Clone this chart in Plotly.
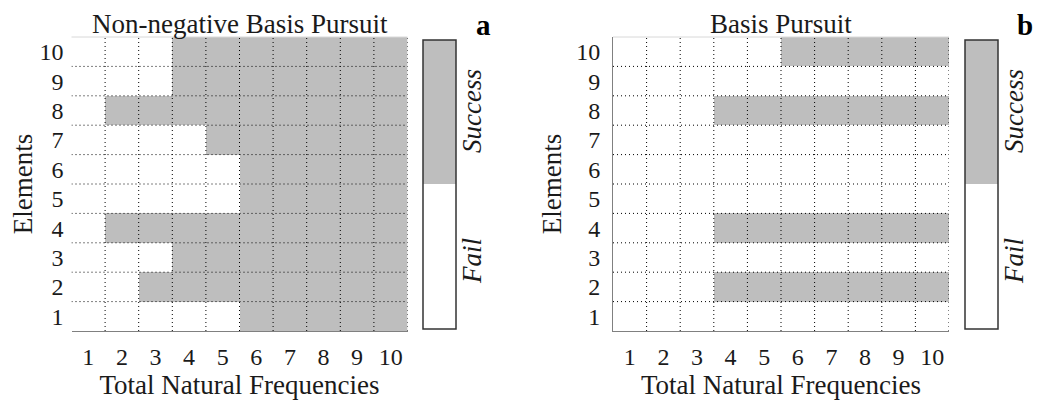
import plotly.graph_objects as go

# ---------------- data ----------------
freqs = [1, 2, 3, 4, 5, 6, 7, 8, 9, 10]          # Total Natural Frequencies
elements = [1, 2, 3, 4, 5, 6, 7, 8, 9, 10]       # Elements
# 1 = Success, 0 = Fail ; rows = elements 1..10, columns = frequencies 1..10
nnbp = [
    [0, 0, 0, 0, 0, 1, 1, 1, 1, 1],  # 1
    [0, 0, 1, 1, 1, 1, 1, 1, 1, 1],  # 2
    [0, 0, 0, 1, 1, 1, 1, 1, 1, 1],  # 3
    [0, 1, 1, 1, 1, 1, 1, 1, 1, 1],  # 4
    [0, 0, 0, 0, 0, 1, 1, 1, 1, 1],  # 5
    [0, 0, 0, 0, 0, 1, 1, 1, 1, 1],  # 6
    [0, 0, 0, 0, 1, 1, 1, 1, 1, 1],  # 7
    [0, 1, 1, 1, 1, 1, 1, 1, 1, 1],  # 8
    [0, 0, 0, 1, 1, 1, 1, 1, 1, 1],  # 9
    [0, 0, 0, 1, 1, 1, 1, 1, 1, 1],  # 10
]
bp = [
    [0, 0, 0, 0, 0, 0, 0, 0, 0, 0],  # 1
    [0, 0, 0, 1, 1, 1, 1, 1, 1, 1],  # 2
    [0, 0, 0, 0, 0, 0, 0, 0, 0, 0],  # 3
    [0, 0, 0, 1, 1, 1, 1, 1, 1, 1],  # 4
    [0, 0, 0, 0, 0, 0, 0, 0, 0, 0],  # 5
    [0, 0, 0, 0, 0, 0, 0, 0, 0, 0],  # 6
    [0, 0, 0, 0, 0, 0, 0, 0, 0, 0],  # 7
    [0, 0, 0, 1, 1, 1, 1, 1, 1, 1],  # 8
    [0, 0, 0, 0, 0, 0, 0, 0, 0, 0],  # 9
    [0, 0, 0, 0, 0, 1, 1, 1, 1, 1],  # 10
]
titles = ["Non-negative Basis Pursuit", "Basis Pursuit"]
panel_labels = ["a", "b"]
cell_edges = [0.5 + i for i in range(11)]

# ---------------- style ----------------
OFF = 8                      # page body margin of the HTML page
W, H = 1042 - OFF, 404 - OFF
GRAY = "#bebebe"
TXT = "#1a1a1a"
FONT = "Liberation Serif, Times New Roman, DejaVu Serif, serif"
cscale = [[0, "white"], [0.5, "white"], [0.5, GRAY], [1, GRAY]]

def px_x(p):
    return (p - OFF) / W

def px_y(p):
    return 1 - (p - OFF) / H

panels = [
    dict(x0=71.5, x1=407.5, cb=423),
    dict(x0=613, x1=949, cb=965),
]
y_top, y_bot = 37, 331

fig = go.Figure()
annotations = []
shapes = []

for i, (z, pan) in enumerate(zip([nnbp, bp], panels)):
    xa = "x" if i == 0 else "x2"
    ya = "y" if i == 0 else "y2"
    fig.add_trace(go.Heatmap(
        x=freqs, y=elements, z=z, zmin=0, zmax=1,
        colorscale=cscale, xaxis=xa, yaxis=ya, hoverinfo="skip",
        colorbar=dict(
            x=px_x(pan["cb"]), xanchor="left", xpad=0, ypad=0,
            y=px_y((40 + 329) / 2), yanchor="middle",
            len=(329 - 40) / H, lenmode="fraction",
            thickness=33, thicknessmode="pixels",
            outlinewidth=1.5, outlinecolor="#333333",
            tickvals=[], showticklabels=False, ticks="",
        ),
    ))
    # dotted grid along cell edges, drawn above the cells
    gx, gy = [], []
    for e in cell_edges[1:]:
        gx += [e, e, None]
        gy += [cell_edges[0], cell_edges[-1], None]
    for e in cell_edges[1:-1]:
        gx += [cell_edges[0], cell_edges[-1], None]
        gy += [e, e, None]
    fig.add_trace(go.Scatter(
        x=gx, y=gy, mode="lines", xaxis=xa, yaxis=ya, hoverinfo="skip",
        line=dict(color="#000000", width=1, dash="1px,3px"), showlegend=False,
    ))

    axis_common = dict(range=[0.5, 10.5], tickmode="array", zeroline=False,
                       showgrid=False, ticks="", fixedrange=True)
    xdom = [px_x(pan["x0"]), px_x(pan["x1"])]
    ydom = [px_y(y_bot), px_y(y_top)]
    xkey = "xaxis" if i == 0 else "xaxis2"
    ykey = "yaxis" if i == 0 else "yaxis2"
    fig.update_layout(**{
        xkey: dict(axis_common, domain=xdom, anchor=ya, tickvals=freqs,
                   ticktext=[str(v) for v in freqs],
                   tickfont=dict(family=FONT, size=24, color=TXT),
                   ticklabelstandoff=4,
                   showline=True, linecolor="#808080", linewidth=1,
                   title=dict(text="Total Natural Frequencies", standoff=4,
                              font=dict(family=FONT, size=27, color=TXT))),
        ykey: dict(axis_common, domain=ydom, anchor=xa, tickvals=elements,
                   ticktext=[str(v) for v in elements],
                   tickfont=dict(family=FONT, size=24, color=TXT),
                   ticklabelstandoff=7,
                   showline=(i == 1), linecolor="#808080", linewidth=1,
                   title=dict(text="Elements", standoff=6,
                              font=dict(family=FONT, size=27, color=TXT))),
    })
    # light top edge
    shapes.append(dict(type="line", xref=f"{xa} domain", yref=f"{ya} domain",
                       x0=0, x1=1, y0=1, y1=1,
                       line=dict(color="#d8d8d8", width=1)))
    # title
    annotations.append(dict(text=titles[i], xref="paper", yref="paper",
                            x=(xdom[0] + xdom[1]) / 2, y=1,
                            xanchor="center", yanchor="top", showarrow=False,
                            borderpad=0,
                            font=dict(family=FONT, size=27, color=TXT)))
    # colorbar labels
    cbx = px_x(pan["cb"] + 49)
    annotations.append(dict(text="<i>Success</i>", xref="paper", yref="paper",
                            x=cbx, y=px_y(111), textangle=-90,
                            xanchor="center", yanchor="middle", showarrow=False,
                            font=dict(family=FONT, size=27, color=TXT)))
    annotations.append(dict(text="<i>Fail</i>", xref="paper", yref="paper",
                            x=cbx, y=px_y(261), textangle=-90,
                            xanchor="center", yanchor="middle", showarrow=False,
                            font=dict(family=FONT, size=27, color=TXT)))
    # panel label
    annotations.append(dict(text=f"<b>{panel_labels[i]}</b>", xref="paper", yref="paper",
                            x=px_x(pan["cb"] + 60), y=px_y(25),
                            xanchor="center", yanchor="middle", showarrow=False,
                            borderpad=0,
                            font=dict(family=FONT, size=29, color="#000000")))

fig.update_layout(
    width=W, height=H, autosize=False,
    margin=dict(l=0, r=0, t=0, b=0),
    paper_bgcolor="white", plot_bgcolor="white",
    showlegend=False,
    annotations=annotations, shapes=shapes,
)

fig.write_html("out.html")
